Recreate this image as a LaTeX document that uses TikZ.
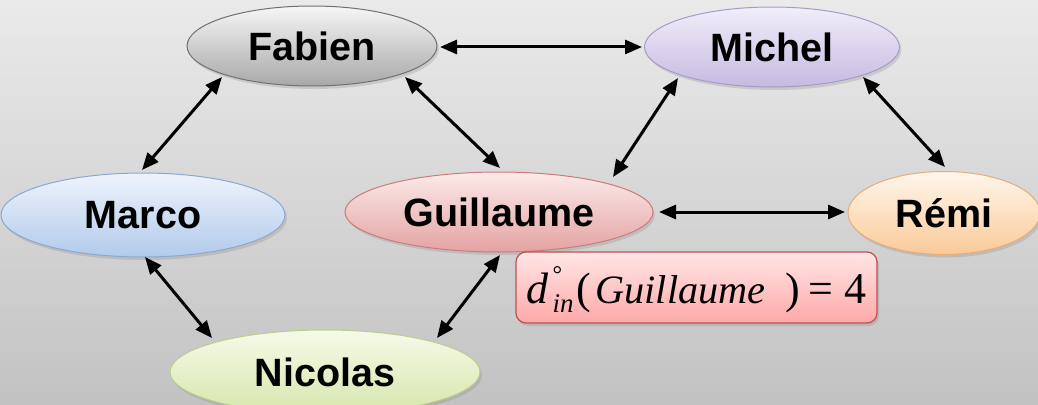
\documentclass[tikz,border=0pt]{standalone}
\usepackage{fontspec}
\setmainfont{Liberation Sans}
\newfontfamily\tms{Liberation Serif}
\usetikzlibrary{shapes.geometric,arrows.meta,calc,shadows}

\definecolor{bgtop}{RGB}{234,234,234}
\definecolor{bgbot}{RGB}{194,194,194}
\definecolor{fabT}{RGB}{246,246,246}\definecolor{fabB}{RGB}{168,168,168}\definecolor{fabD}{RGB}{112,112,112}
\definecolor{micT}{RGB}{242,238,250}\definecolor{micB}{RGB}{198,186,224}\definecolor{micD}{RGB}{168,154,200}
\definecolor{marT}{RGB}{238,244,252}\definecolor{marB}{RGB}{178,202,234}\definecolor{marD}{RGB}{138,168,210}
\definecolor{guiT}{RGB}{252,234,234}\definecolor{guiB}{RGB}{228,162,162}\definecolor{guiD}{RGB}{205,122,122}
\definecolor{remT}{RGB}{255,246,236}\definecolor{remB}{RGB}{250,202,152}\definecolor{remD}{RGB}{232,172,122}
\definecolor{nicT}{RGB}{246,250,232}\definecolor{nicB}{RGB}{214,230,172}\definecolor{nicD}{RGB}{186,206,142}
\definecolor{boxT}{RGB}{255,230,230}\definecolor{boxB}{RGB}{255,168,168}\definecolor{boxD}{RGB}{192,80,80}

\tikzset{
  person/.style n args={5}{ellipse, draw=#3, line width=1pt, inner sep=0pt,
    top color=#1, bottom color=#2, minimum width=#4, minimum height=#5,
    font=\bfseries\fontsize{39.5}{41}\selectfont,
    drop shadow={shadow xshift=2pt, shadow yshift=-3pt, opacity=0.25}},
  link/.style={line width=3pt, {Triangle[length=17pt,width=14pt]}-{Triangle[length=17pt,width=14pt]}},
  degbox/.style={rectangle, rounded corners=10pt, draw=boxD, line width=1.2pt,
    top color=boxT, bottom color=boxB, inner sep=0pt,
    minimum width=361pt, minimum height=71pt, text height=40pt, text depth=9pt,
    font=\tms\fontsize{44}{46}\selectfont,
    drop shadow={shadow xshift=2pt, shadow yshift=-3pt, opacity=0.25}}
}

\begin{document}
\begin{tikzpicture}[x=1pt,y=1pt]
  % backdrop
  \useasboundingbox (0,0) rectangle (1038,-404);
  \fill[top color=bgtop, bottom color=bgbot] (0,0) rectangle (1038,-404);

  % people
  \node[person={fabT}{fabB}{fabD}{250pt}{80pt}] (fab) at (312,-46) {Fabien};
  \node[person={micT}{micB}{micD}{255pt}{80pt}] (mic) at (772,-47) {Michel};
  \node[person={marT}{marB}{marD}{284pt}{84pt}] (mar) at (143,-215) {Marco};
  \node[person={guiT}{guiB}{guiD}{308pt}{80pt}] (gui) at (499,-212) {Guillaume};
  \node[person={remT}{remB}{remD}{192pt}{83pt}] (rem) at (944,-213) {Rémi};
  \node[person={nicT}{nicB}{nicD}{310pt}{84pt}] (nic) at (325,-372) {Nicolas};

  % in-degree label: each piece in a box of fixed width
  \node[degbox] (deg) at (696.5,-287.5) {\makebox[340pt][l]{%
    \makebox[24pt][l]{\itshape d}%
    \makebox[26pt][l]{\hspace{2pt}\rlap{\raisebox{21pt}{\fontsize{24}{24}\selectfont °}}%
      \raisebox{-9pt}{\fontsize{27}{27}\selectfont\itshape in}}%
    \makebox[19pt][l]{(}%
    \makebox[190pt][l]{\resizebox{170pt}{!}{\fontsize{36}{38}\selectfont\itshape Guillaume}}%
    \makebox[23pt][l]{)}%
    \makebox[36pt][l]{=}%
    4}};

  % links
  \draw[link] ($(fab.center)+(128,-1)$) -- ($(mic.center)+(-130,0)$);
  \draw[link] ($(fab.center)+(-90,-31)$) -- ($(mar.center)+(-1,45)$);
  \draw[link] ($(fab.center)+(93,-31)$) -- ($(gui.center)+(1,44)$);
  \draw[link] ($(mic.center)+(-94,-31)$) -- ($(gui.center)+(114,35)$);
  \draw[link] ($(mic.center)+(91,-30)$) -- ($(rem.center)+(1,46)$);
  \draw[link] ($(gui.center)+(160,0)$) -- ($(rem.center)+(-99,1)$);
  \draw[link] ($(mar.center)+(2,-42)$) -- ($(nic.center)+(-113,34)$);
  \draw[link] ($(gui.center)+(1,-43)$) -- ($(nic.center)+(112,34)$);
\end{tikzpicture}
\end{document}
